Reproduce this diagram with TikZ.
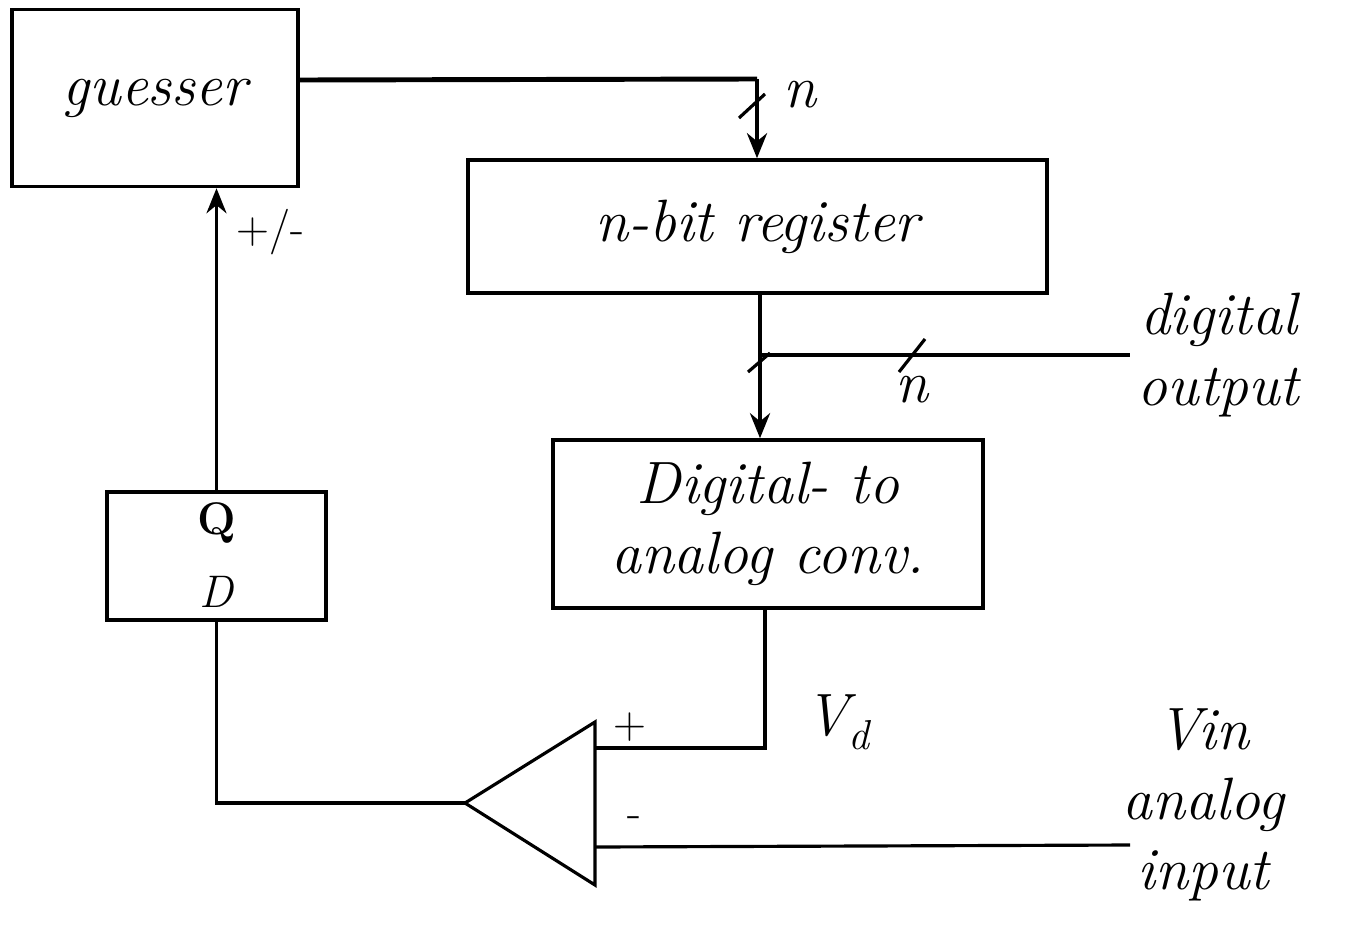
\documentclass[tikz,border=0pt]{standalone}
\usepackage{tikz}
\usetikzlibrary{arrows.meta, positioning, calc}

\begin{document}
\begin{tikzpicture}[
    block/.style   ={rectangle, draw=black, line width=2pt, align=center, inner sep=0pt, font=\itshape\fontsize{34}{40}\selectfont},
    wire/.style    ={line width=1.8pt},
    bus/.style     ={line width=2.8pt},
    sig/.style     ={-{Stealth[length=5mm, width=4mm]}},
    slash/.style   ={line width=1.8pt},
    tlabel/.style  ={font=\itshape\fontsize{34}{40}\selectfont, inner sep=0pt, align=center},
    slabel/.style  ={font=\fontsize{26}{30}\selectfont, inner sep=0pt}
]
\useasboundingbox (0,0) rectangle (27.2,-18.68);
\def\ampx{11.9}
% --- blocks ---
\node[block, minimum width=5.72cm,  minimum height=3.54cm] (guess) at (3.1,-1.96)   {guesser};
\node[block, minimum width=11.58cm, minimum height=2.66cm] (reg)   at (15.15,-4.53) {n-bit register};
\node[block, minimum width=8.6cm,   minimum height=3.36cm] (dac)   at (15.36,-10.48) {Digital- to\\analog conv.};
\node[block, minimum width=4.38cm,  minimum height=2.56cm] (dff)   at (4.33,-11.12) {};
\node[slabel] (q) at (4.33,-10.46) {\bfseries Q};
\node[slabel] (d) at (4.33,-11.84) {\itshape D};

% --- comparator (drawn by hand) ---
\coordinate (apex)   at (9.3,-16.06);
\coordinate (amptop) at (\ampx,-14.44);
\coordinate (ampbot) at (\ampx,-17.7);
\coordinate (inplus) at (\ampx,-14.96);
\coordinate (inmin)  at (\ampx,-16.94);
\draw[wire, line join=miter] (apex) -- (amptop) -- (ampbot) -- cycle;
\node[slabel] (plus)  at (12.6,-14.54) {+};
\node[slabel] (minus) at (12.68,-16.44) {-};

% --- guesser -> register (n bits) ---
\coordinate (corner) at (15.14,-1.58);
\draw[bus] (guess.east |- 0,-1.6) -- (corner);
\draw[bus, sig] (corner) -- (corner |- reg.north);
\draw[slash] (14.78,-2.36) -- ++(0.52,0.48);
\node[tlabel] (nreg) at (16.0,-1.9) {n};

% --- register -> DAC, tap to digital output ---
\coordinate (regout) at (15.2,-5.86);
\draw[bus, sig] (regout) -- (regout |- dac.north);
\draw[slash] (14.96,-7.44) -- ++(0.44,0.38);
\coordinate (tap)  at (15.2,-7.1);
\coordinate (dout) at (22.6,-7.1);
\draw[bus] (tap) -- (dout);
\draw[slash] (17.98,-7.44) -- ++(0.52,0.66);
\node[tlabel] (nout) at (18.24,-7.8) {n};
\node[tlabel, anchor=west] (douttxt) at (22.75,-7.1) {digital\\output};

% --- DAC -> comparator (+) ---
\draw[wire] (dac.south -| 15.3,0) |- (inplus);
\node[tlabel] (vd) at (16.76,-14.44) {V\textsubscript{d}};

% --- analog input -> comparator (-) ---
\coordinate (vinend) at (22.6,-16.9);
\draw[wire] (vinend) -- (inmin);
\node[tlabel, anchor=west] (vintxt) at (22.45,-16.1) {Vin\\analog\\input};

% --- comparator -> flip-flop -> guesser ---
\draw[wire] (apex) -| (dff.south);
\draw[wire, sig] (dff.north) -- (guess.south -| dff.north);
\node[slabel] (pm) at (5.4,-4.64) {+/-};
\end{tikzpicture}
\end{document}
